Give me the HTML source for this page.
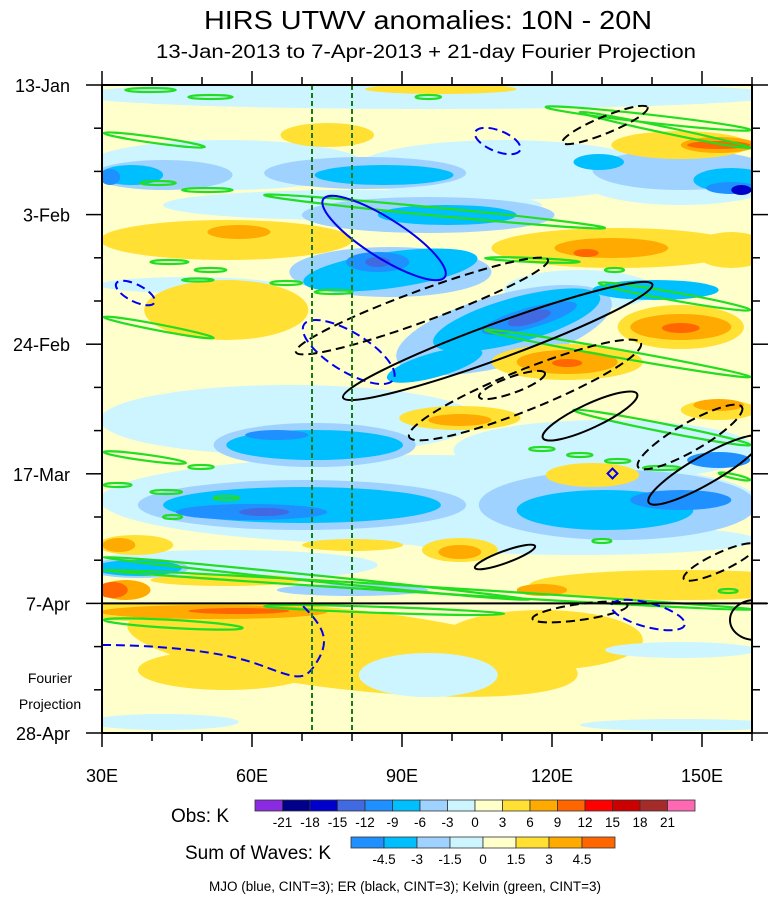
<!DOCTYPE html>
<html><head><meta charset="utf-8"><style>
html,body{margin:0;padding:0;background:#fff;}
svg{display:block;font-family:"Liberation Sans",sans-serif;}
</style></head><body>
<svg id="chart" width="770" height="899" viewBox="0 0 770 899" xmlns="http://www.w3.org/2000/svg">
<defs>
<clipPath id="cUp"><rect x="102" y="85" width="650" height="518"/></clipPath>
<clipPath id="cLo"><rect x="102" y="603" width="650" height="130"/></clipPath>
<clipPath id="cAll"><rect x="102" y="85" width="650" height="648"/></clipPath>
</defs>
<rect x="102" y="85" width="650" height="648" fill="#FFFFCC"/>
<g id="fieldUp" clip-path="url(#cUp)"><g id="fieldUpS" transform="translate(100,0) scale(1.2626,1) translate(-100,0)"></g></g>
<g id="fieldLo" clip-path="url(#cLo)"><g id="fieldLoS" transform="translate(100,0) scale(1.2626,1) translate(-100,0)"></g></g>
<g id="contours" clip-path="url(#cAll)">
 <g id="contS" transform="translate(100,0) scale(1.2626,1) translate(-100,0)"></g>
 <g id="contM"></g>
</g>
<g id="axes"></g>
<g id="bars"></g>
</svg>
<script>
// ---- chart data ----
const lonTicks = [30,60,90,120,150];
const lonTickLabels = ["30E","60E","90E","120E","150E"];
const dateLabels = ["13-Jan","3-Feb","24-Feb","17-Mar","7-Apr","28-Apr"];
const dateLabelDays = [0,21,42,63,84,105];
const obsLevels = [-21,-18,-15,-12,-9,-6,-3,0,3,6,9,12,15,18,21];
const obsColors = ["#8A2BE2","#00008B","#0000CD","#4169E1","#1E90FF","#00BFFF","#A0D2FF","#CCF5FF","#FFFFCC","#FFE033","#FFAA00","#FF6600","#FF0000","#CC0000","#A52A2A","#FF69B4"];
const wavLevels = [-4.5,-3,-1.5,0,1.5,3,4.5];
const wavColors = ["#1E90FF","#00BFFF","#A0D2FF","#CCF5FF","#FFFFCC","#FFE033","#FFAA00","#FF6600"];
// observed anomaly blobs: [x, y, rx, ry, rot, value]
const blobsUp = [
[360,95,280,14,0,-1.5],[200,165,110,25,0,-1.5],[420,170,120,30,0,-1.5],[560,180,80,25,0,-1.5],[300,205,150,15,0,-1.5],
[250,420,150,35,0,-1.5],[360,500,260,45,0,-1.5],[500,450,120,30,0,-1.5],[480,540,140,15,0,-1.5],[200,565,120,15,0,-1.5],
[170,285,70,8,0,-1.5],[480,290,60,20,0,-1.5],[200,122,110,12,0,1.5],
[150,175,55,15,0,-4.5],[310,173,80,16,0,-4.5],[560,170,70,20,0,-4.5],[360,215,100,18,0,-4.5],[330,272,80,25,0,-4.5],
[420,330,90,35,-20,-4.5],[270,445,80,22,0,-4.5],[260,505,130,25,0,-4.5],[510,505,110,35,0,-4.5],[480,360,30,10,0,-4.5],[130,568,40,10,0,-4.5],[300,590,60,6,0,-4.5],
[125,175,25,10,0,-7.5],[325,175,55,10,0,-7.5],[495,162,20,8,0,-7.5],[600,180,30,12,0,-7.5],[375,215,55,10,0,-7.5],[330,270,70,18,-10,-7.5],
[430,320,70,22,-20,-7.5],[540,290,50,10,0,-7.5],[270,445,70,15,0,-7.5],[260,505,110,18,0,-7.5],[500,510,70,20,0,-7.5],[130,568,35,8,0,-7.5],[365,365,40,12,-20,-7.5],
[108,177,8,8,0,-10.5],[320,262,25,10,0,-10.5],[440,318,40,10,-20,-10.5],[240,435,25,5,0,-10.5],[220,512,60,8,0,-10.5],[560,500,40,10,0,-10.5],[590,460,25,8,0,-10.5],[600,188,20,6,0,-10.5],
[320,262,10,5,0,-13.5],[440,318,18,6,-20,-13.5],[230,512,20,4,0,-13.5],[608,190,8,5,0,-16.5],
[280,135,37,12,0,4.5],[370,89,60,5,0,4.5],[560,145,55,14,0,4.5],[200,240,100,20,0,4.5],[510,248,100,20,0,4.5],[600,250,30,18,0,4.5],
[200,310,65,30,0,4.5],[560,327,50,22,0,4.5],[470,362,60,18,0,4.5],[385,418,48,12,0,4.5],[590,410,30,10,0,4.5],[490,475,37,12,0,4.5],
[128,545,30,10,0,4.5],[385,550,30,12,0,4.5],[300,545,40,6,0,4.5],[560,585,120,15,0,4.5],[200,580,60,6,0,4.5],
[210,232,25,7,0,7.5],[505,248,45,10,0,7.5],[560,327,40,13,0,7.5],[470,362,40,12,0,7.5],[590,145,30,8,0,7.5],[385,420,25,6,0,7.5],
[590,405,20,6,0,7.5],[115,545,13,7,0,7.5],[385,552,17,7,0,7.5],[450,590,20,6,0,7.5],[120,590,20,10,0,7.5],
[590,145,25,4,0,10.5],[485,253,10,4,0,10.5],[560,328,15,5,0,10.5],[470,363,12,4,0,10.5],[110,590,12,8,0,10.5]
];
const blobsLo = [
[300,650,180,40,8,4.5],[200,670,70,20,0,4.5],[450,640,80,30,0,4.5],[160,612,90,10,0,4.5],
[190,612,90,7,0,7.5],[210,611,40,3,0,10.5],
[360,675,55,22,0,-1.5],[560,650,60,8,0,-1.5],[150,722,60,8,0,-1.5],[560,725,80,6,0,-1.5]
];
// wave contours (stretched raw coords): [x, y, rx, ry, rot]
const mjoSolid = [[325,238,62,18,40]];
const mjoDashed = [[415,141,20,10,30],[128,293,18,8,35],[297,352,45,18,40]];
const erDashedS = [[500,125,38,8,-28],[355,306,110,15,-25]];
const erSolidS = [[415,341,135,17,-25]];
// main coords
const erDashedM = [[525,390,125,20,-22],[512,385,35,8,-20],[690,437,60,14,-30],[720,562,40,9,-25],[580,612,48,8,-8]];
const erSolidM = [[590,416,52,12,-25],[705,470,65,14,-30],[505,557,32,6,-20],[755,620,25,20,0]];
const mjoDashedM = [[648,615,38,12,15]];
// Kelvin segments (stretched raw coords): [x1,y1,x2,y2,halfwidth]
const kelvin = [
[103,133,183,147,3],[230,195,500,228,4],[453,107,615,130,4],[480,112,615,148,3],[103,317,190,338,3],
[405,330,615,377,4],[495,283,615,310,4],[405,258,480,262,2],
[120,90,160,90,2],[170,97,205,97,2],[132,183,160,183,2],[165,190,205,190,2],[140,262,170,262,2],[175,270,200,270,2],
[235,283,260,283,2],[270,292,300,292,2],[350,97,370,97,2],[500,270,515,270,2],[165,280,190,280,1.5],
[103,452,168,463,3],[475,410,615,445,4],[103,557,440,600,3],[103,570,620,610,3],[103,620,213,628,4],[230,606,420,614,3],
[170,467,190,467,2],[140,492,165,492,2],[190,498,210,498,2],[150,517,165,517,2],[440,449,460,449,2],[470,455,490,455,2],
[500,461,520,461,2],[530,468,560,468,2],[490,541,505,541,2],[590,473,615,480,2],[590,591,605,591,2],[103,485,125,485,2]
];
// ---- axis functions ----
const X0=102, X1=752, Y0=85, Y1=733;
function xLon(l){return X0+(l-30)*(X1-X0)/130;}
function yDay(d){return Y0+d*(Y1-Y0)/105;}
function colorFor(v){let i=0;while(i<obsLevels.length&&v>obsLevels[i])i++;return obsColors[i];}
const NS="http://www.w3.org/2000/svg";
function mk(tag,attrs,parent){const e=document.createElementNS(NS,tag);for(const k in attrs)e.setAttribute(k,attrs[k]);parent.appendChild(e);return e;}
function drawBlobs(list,g){list.forEach(b=>{const e=mk("ellipse",{cx:b[0],cy:b[1],rx:b[2],ry:b[3],transform:`rotate(${b[4]} ${b[0]} ${b[1]})`,fill:colorFor(b[5])},g);

});}
drawBlobs(blobsUp,document.getElementById("fieldUpS"));
drawBlobs(blobsLo,document.getElementById("fieldLoS"));
function drawEll(list,g,color,dash,name){list.forEach(c=>{const e=mk("ellipse",{cx:c[0],cy:c[1],rx:c[2],ry:c[3],transform:`rotate(${c[4]} ${c[0]} ${c[1]})`,fill:"none",stroke:color,"stroke-width":2,"vector-effect":"non-scaling-stroke"},g);
if(dash)e.setAttribute("stroke-dasharray","9 5");

});}
const gS=document.getElementById("contS"), gM=document.getElementById("contM");
kelvin.forEach(k=>{const cx=(k[0]+k[2])/2,cy=(k[1]+k[3])/2,len=Math.hypot(k[2]-k[0],k[3]-k[1])/2,ang=Math.atan2(k[3]-k[1],k[2]-k[0])*180/Math.PI;
const e=mk("ellipse",{cx:cx,cy:cy,rx:len,ry:k[4],transform:`rotate(${ang} ${cx} ${cy})`,fill:"none",stroke:"#22DD22","stroke-width":2.2,"vector-effect":"non-scaling-stroke"},gS);

});
drawEll(mjoSolid,gS,"#0000EE",false,"mjo-contour-positive");
drawEll(mjoDashed,gS,"#0000EE",true,"mjo-contour-negative");
drawEll(erDashedS,gS,"#000",true,"er-contour-negative");
drawEll(erSolidS,gS,"#000",false,"er-contour-positive");
drawEll(erDashedM,gM,"#000",true,"er-contour-negative");
drawEll(erSolidM,gM,"#000",false,"er-contour-positive");
drawEll(mjoDashedM,gM,"#0000EE",true,"mjo-contour-negative");
(function(){const p=mk("path",{d:"M102,645 C150,645 220,650 260,665 S305,682 318,660 S322,625 300,603",fill:"none",stroke:"#0000EE","stroke-width":2,"stroke-dasharray":"9 5"},gM);


const d=mk("rect",{x:609,y:470,width:7,height:7,transform:"rotate(45 612.5 473.5)",fill:"none",stroke:"#0000EE","stroke-width":2},gM);

})();
[72,80].forEach(l=>{const e=mk("line",{x1:xLon(l),x2:xLon(l),y1:Y0,y2:Y1,stroke:"#1a7a1a","stroke-width":2,"stroke-dasharray":"5 3"},gM);

});
// ---- axes ----
const ax=document.getElementById("axes");
const border=mk("rect",{x:X0,y:Y0,width:X1-X0,height:Y1-Y0,fill:"none",stroke:"#000","stroke-width":2},ax);


const sep=mk("line",{x1:X0,x2:X1+15,y1:yDay(84),y2:yDay(84),stroke:"#000","stroke-width":2},ax);


for(let l=30;l<=160;l+=10){const maj=lonTicks.includes(l);const x=xLon(l),L=maj?14:8;
mk("line",{x1:x,x2:x,y1:Y0,y2:Y0-L,stroke:"#000","stroke-width":1.5},ax);
mk("line",{x1:x,x2:x,y1:Y1,y2:Y1+L,stroke:"#000","stroke-width":1.5},ax);}
lonTicks.forEach((l,i)=>{const t=mk("text",{x:xLon(l),y:Y1+49,"text-anchor":"middle","font-size":18},ax);t.textContent=lonTickLabels[i];

});
for(let d=0;d<=105;d+=7){const maj=dateLabelDays.includes(d);const y=yDay(d),L=maj?16:8;
mk("line",{x1:X0,x2:X0-L,y1:y,y2:y,stroke:"#000","stroke-width":1.5},ax);
mk("line",{x1:X1,x2:X1+L,y1:y,y2:y,stroke:"#000","stroke-width":1.5},ax);}
dateLabels.forEach((s,i)=>{const t=mk("text",{x:70,y:yDay(dateLabelDays[i])+7,"text-anchor":"end","font-size":18},ax);t.textContent=s;

});
function txt(x,y,s,size,name,anchor,len){const t=mk("text",{x:x,y:y,"font-size":size,"text-anchor":anchor||"middle"},ax);if(len){t.setAttribute("textLength",len);t.setAttribute("lengthAdjust","spacingAndGlyphs");}t.textContent=s;

return t;}
txt(428,29,"HIRS UTWV anomalies: 10N - 20N",26,"chart-title","middle",448);
txt(426,58,"13-Jan-2013 to 7-Apr-2013 + 21-day Fourier Projection",19,"chart-subtitle","middle",540);
txt(50,683,"Fourier",14,"projection-label");
txt(50,709,"Projection",14,"projection-label");
txt(405,891,"MJO (blue, CINT=3); ER (black, CINT=3); Kelvin (green, CINT=3)",13.5,"wave-legend-note");
// ---- colorbars ----
const bars=document.getElementById("bars");
function bar(x0,y0,w,h,colors,levels,name){const n=colors.length,bw=w/n;
colors.forEach((c,i)=>{const r=mk("rect",{x:x0+i*bw,y:y0,width:bw,height:h,fill:c,stroke:"#333","stroke-width":0.8},bars);

});
levels.forEach((v,i)=>{const t=mk("text",{x:x0+(i+1)*bw,y:y0+h+16,"text-anchor":"middle","font-size":13.5},bars);t.textContent=v;

});}
bar(255,800,440,11,obsColors,obsLevels,"obs-colorbar");
bar(351,837,264,11,wavColors,wavLevels,"waves-colorbar");
txt(200,822,"Obs: K",19,"obs-colorbar-title");
txt(258,859,"Sum of Waves: K",19,"waves-colorbar-title");
</script>
</body></html>
